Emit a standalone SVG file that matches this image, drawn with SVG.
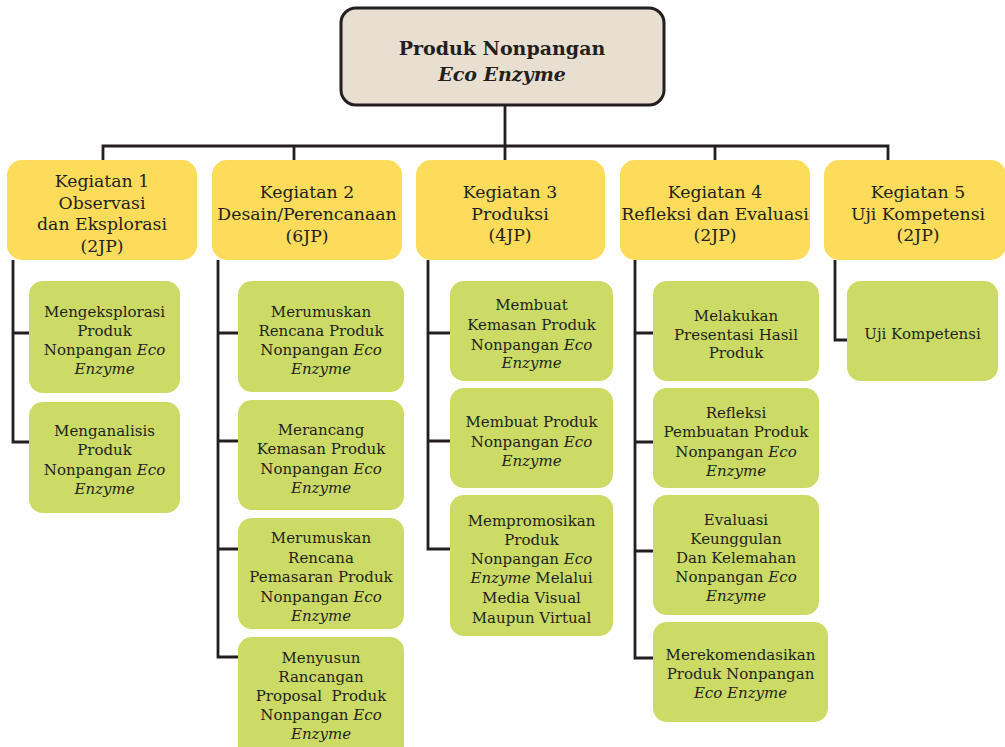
<svg xmlns="http://www.w3.org/2000/svg" width="1005" height="747" viewBox="0 0 1005 747">
<style>
text{font-family:"DejaVu Serif","Liberation Serif",serif;fill:#231F20;text-anchor:middle}
.t{font-size:19px;font-weight:bold}
.y{font-size:17.3px}
.g{font-size:15px}
.i{font-style:italic}
.ry{fill:#FDDC5C}
.rg{fill:#CBDB66}
.con{fill:none;stroke:#231F20;stroke-width:2.8;stroke-linejoin:miter}
</style>
<rect width="1005" height="747" fill="#ffffff"/>
<g id="connectors" class="con">
<path d="M505,106V160M103,160V146H888V160M294,146V160M715,146V160"/>
<path d="M13,260V442H29M13,333H29"/>
<path d="M218,260V657H238M218,333H238M218,441H238M218,549H238"/>
<path d="M428,260V549H450M428,333H450M428,441H450"/>
<path d="M635,260V658H653M635,333H653M635,442H653M635,551H653"/>
<path d="M835,260V340H847"/>
</g>
<g id="root">
<rect x="341" y="8" width="323" height="97" rx="15" fill="#E8DFD0" stroke="#231F20" stroke-width="3"/>
<text class="t" x="502" y="55">Produk Nonpangan</text>
<text class="t i" x="502" y="81">Eco Enzyme</text>
</g>
<g id="k1">
<rect class="ry" x="7" y="160" width="190" height="100" rx="15"/>
<text class="y" x="102"><tspan x="102" y="187">Kegiatan 1</tspan><tspan x="102" y="209">Observasi</tspan><tspan x="102" y="230">dan Eksplorasi</tspan><tspan x="102" y="252">(2JP)</tspan></text>
</g>
<g id="k2">
<rect class="ry" x="212" y="160" width="190" height="100" rx="15"/>
<text class="y" x="307"><tspan x="307" y="198">Kegiatan 2</tspan><tspan x="307" y="220">Desain/Perencanaan</tspan><tspan x="307" y="242">(6JP)</tspan></text>
</g>
<g id="k3">
<rect class="ry" x="416" y="160" width="189" height="100" rx="15"/>
<text class="y" x="510"><tspan x="510" y="198">Kegiatan 3</tspan><tspan x="510" y="220">Produksi</tspan><tspan x="510" y="241">(4JP)</tspan></text>
</g>
<g id="k4">
<rect class="ry" x="620" y="160" width="190" height="100" rx="15"/>
<text class="y" x="715"><tspan x="715" y="198">Kegiatan 4</tspan><tspan x="715" y="220">Refleksi dan Evaluasi</tspan><tspan x="715" y="241">(2JP)</tspan></text>
</g>
<g id="k5">
<rect class="ry" x="824" y="160" width="182" height="100" rx="15"/>
<text class="y" x="918"><tspan x="918" y="198">Kegiatan 5</tspan><tspan x="918" y="220">Uji Kompetensi</tspan><tspan x="918" y="241">(2JP)</tspan></text>
</g>
<g id="k1a">
<rect class="rg" x="29" y="281" width="151" height="112" rx="14"/>
<text class="g"><tspan x="104.5" y="317">Mengeksplorasi</tspan><tspan x="104.5" y="336">Produk</tspan><tspan x="104.5" y="355">Nonpangan <tspan class="i">Eco</tspan></tspan><tspan class="i" x="104.5" y="374">Enzyme</tspan></text>
</g>
<g id="k1b">
<rect class="rg" x="29" y="402" width="151" height="111" rx="14"/>
<text class="g"><tspan x="104.5" y="436">Menganalisis</tspan><tspan x="104.5" y="455">Produk</tspan><tspan x="104.5" y="475">Nonpangan <tspan class="i">Eco</tspan></tspan><tspan class="i" x="104.5" y="494">Enzyme</tspan></text>
</g>
<g id="k2a">
<rect class="rg" x="238" y="281" width="166" height="111" rx="14"/>
<text class="g"><tspan x="321" y="317">Merumuskan</tspan><tspan x="321" y="336">Rencana Produk</tspan><tspan x="321" y="355">Nonpangan <tspan class="i">Eco</tspan></tspan><tspan class="i" x="321" y="374">Enzyme</tspan></text>
</g>
<g id="k2b">
<rect class="rg" x="238" y="400" width="166" height="110" rx="14"/>
<text class="g"><tspan x="321" y="435">Merancang</tspan><tspan x="321" y="454">Kemasan Produk</tspan><tspan x="321" y="474">Nonpangan <tspan class="i">Eco</tspan></tspan><tspan class="i" x="321" y="493">Enzyme</tspan></text>
</g>
<g id="k2c">
<rect class="rg" x="238" y="518" width="166" height="111" rx="14"/>
<text class="g"><tspan x="321" y="543">Merumuskan</tspan><tspan x="321" y="563">Rencana</tspan><tspan x="321" y="582">Pemasaran Produk</tspan><tspan x="321" y="602">Nonpangan <tspan class="i">Eco</tspan></tspan><tspan class="i" x="321" y="621">Enzyme</tspan></text>
</g>
<g id="k2d">
<rect class="rg" x="238" y="637" width="166" height="125" rx="14"/>
<text class="g"><tspan x="321" y="663">Menyusun</tspan><tspan x="321" y="682">Rancangan</tspan><tspan x="321" y="701" xml:space="preserve">Proposal  Produk</tspan><tspan x="321" y="720">Nonpangan <tspan class="i">Eco</tspan></tspan><tspan class="i" x="321" y="739">Enzyme</tspan></text>
</g>
<g id="k3a">
<rect class="rg" x="450" y="281" width="163" height="100" rx="14"/>
<text class="g"><tspan x="531.5" y="310">Membuat</tspan><tspan x="531.5" y="330">Kemasan Produk</tspan><tspan x="531.5" y="350">Nonpangan <tspan class="i">Eco</tspan></tspan><tspan class="i" x="531.5" y="368">Enzyme</tspan></text>
</g>
<g id="k3b">
<rect class="rg" x="450" y="388" width="163" height="100" rx="14"/>
<text class="g"><tspan x="531.5" y="427">Membuat Produk</tspan><tspan x="531.5" y="447">Nonpangan <tspan class="i">Eco</tspan></tspan><tspan class="i" x="531.5" y="466">Enzyme</tspan></text>
</g>
<g id="k3c">
<rect class="rg" x="450" y="495" width="163" height="141" rx="14"/>
<text class="g"><tspan x="531.5" y="526">Mempromosikan</tspan><tspan x="531.5" y="545">Produk</tspan><tspan x="531.5" y="564">Nonpangan <tspan class="i">Eco</tspan></tspan><tspan x="531.5" y="583"><tspan class="i">Enzyme</tspan> Melalui</tspan><tspan x="531.5" y="603">Media Visual</tspan><tspan x="531.5" y="623">Maupun Virtual</tspan></text>
</g>
<g id="k4a">
<rect class="rg" x="653" y="281" width="166" height="100" rx="14"/>
<text class="g"><tspan x="736" y="321">Melakukan</tspan><tspan x="736" y="340">Presentasi Hasil</tspan><tspan x="736" y="358">Produk</tspan></text>
</g>
<g id="k4b">
<rect class="rg" x="653" y="388" width="166" height="100" rx="14"/>
<text class="g"><tspan x="736" y="418">Refleksi</tspan><tspan x="736" y="437">Pembuatan Produk</tspan><tspan x="736" y="457">Nonpangan <tspan class="i">Eco</tspan></tspan><tspan class="i" x="736" y="476">Enzyme</tspan></text>
</g>
<g id="k4c">
<rect class="rg" x="653" y="495" width="166" height="120" rx="14"/>
<text class="g"><tspan x="736" y="525">Evaluasi</tspan><tspan x="736" y="544">Keunggulan</tspan><tspan x="736" y="563">Dan Kelemahan</tspan><tspan x="736" y="582">Nonpangan <tspan class="i">Eco</tspan></tspan><tspan class="i" x="736" y="601">Enzyme</tspan></text>
</g>
<g id="k4d">
<rect class="rg" x="653" y="622" width="175" height="100" rx="14"/>
<text class="g"><tspan x="740.5" y="660">Merekomendasikan</tspan><tspan x="740.5" y="679">Produk Nonpangan</tspan><tspan class="i" x="740.5" y="698">Eco Enzyme</tspan></text>
</g>
<g id="k5a">
<rect class="rg" x="847" y="281" width="151" height="100" rx="14"/>
<text class="g" x="922.5" y="339">Uji Kompetensi</text>
</g>
</svg>
